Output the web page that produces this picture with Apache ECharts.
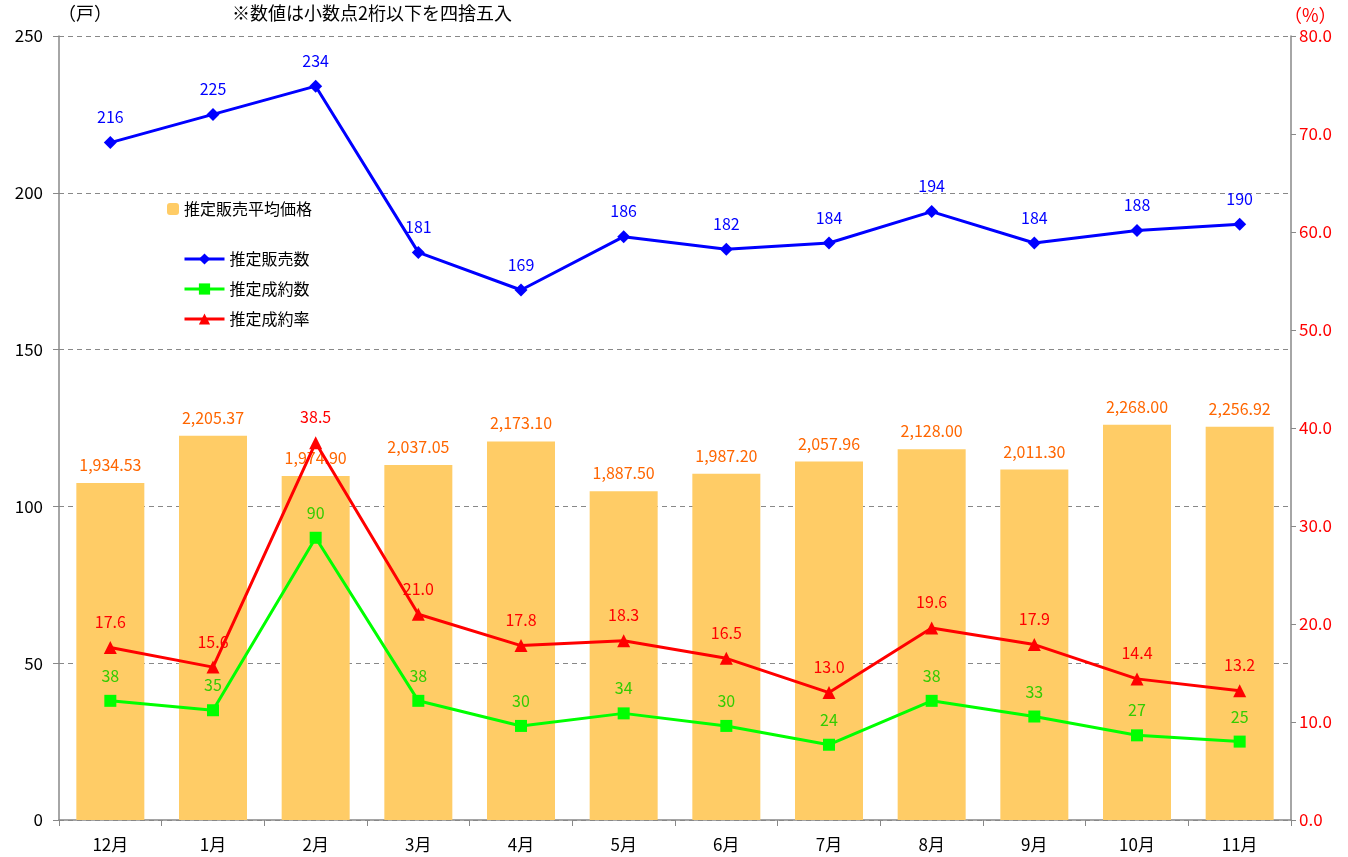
<!DOCTYPE html>
<html>
<head>
<meta charset="utf-8">
<script src="https://cdn.jsdelivr.net/npm/echarts@6/dist/echarts.min.js"></script>
<style>
  html, body { margin: 0; padding: 0; background: #fff; }
  #chart { width: 1348px; height: 857px; }
</style>
</head>
<body>
<div id="chart"></div>
<script>
const months = ['12月', '1月', '2月', '3月', '4月', '5月', '6月', '7月', '8月', '9月', '10月', '11月'];
const avgPrice = [1934.53, 2205.37, 1974.90, 2037.05, 2173.10, 1887.50, 1987.20, 2057.96, 2128.00, 2011.30, 2268.00, 2256.92];
const salesCount = [216, 225, 234, 181, 169, 186, 182, 184, 194, 184, 188, 190];
const contractCount = [38, 35, 90, 38, 30, 34, 30, 24, 38, 33, 27, 25];
const contractRate = [17.6, 15.6, 38.5, 21.0, 17.8, 18.3, 16.5, 13.0, 19.6, 17.9, 14.4, 13.2];

const font = '"Noto Sans CJK JP", "Noto Sans", sans-serif';

echarts.init(document.getElementById('chart'))
    .setOption({
        animation: false,
        textStyle: {
            fontFamily: font
        },
        grid: {
            left: 59,
            right: 57,
            top: 36,
            bottom: 37
        },
        graphic: [
            {
                type: 'text',
                left: 58,
                top: 4,
                style: { text: '（戸）', fontSize: 18, fill: '#000', fontFamily: font }
            },
            {
                type: 'text',
                left: 232,
                top: 4,
                style: { text: '※数値は小数点2桁以下を四捨五入', fontSize: 18, fill: '#000', fontFamily: font }
            },
            {
                type: 'text',
                left: 1284,
                top: 6,
                style: { text: '（%）', fontSize: 18, fill: '#ff0000', fontFamily: font }
            }
        ],
        legend: [
            {
                data: ['推定販売平均価格'],
                left: 162,
                top: 196,
                itemWidth: 12,
                itemHeight: 12,
                textStyle: { fontSize: 16, color: '#000' }
            },
            {
                data: ['推定販売数', '推定成約数', '推定成約率'],
                orient: 'vertical',
                left: 178,
                top: 246,
                itemGap: 14,
                itemWidth: 40,
                itemHeight: 14,
                lineStyle: { width: 3 },
                textStyle: { fontSize: 16, color: '#000' }
            }
        ],
        xAxis: {
            type: 'category',
            data: months,
            axisLine: { lineStyle: { color: '#888', width: 1.5 } },
            axisTick: { show: true, length: 6, lineStyle: { color: '#888' } },
            axisLabel: {
                fontSize: 17,
                color: '#000',
                margin: 16
            }
        },
        yAxis: [
            {
                type: 'value',
                min: 0,
                max: 250,
                interval: 50,
                axisLine: { show: true, lineStyle: { color: '#888', width: 1.5 } },
                axisTick: { show: true, length: 6, lineStyle: { color: '#888' } },
                axisLabel: { fontSize: 17, color: '#000', margin: 16 },
                splitLine: { lineStyle: { color: '#888', type: [5, 4], width: 1 } }
            },
            {
                type: 'value',
                min: 0,
                max: 80,
                interval: 10,
                position: 'right',
                axisLine: { show: true, lineStyle: { color: '#888', width: 1.5 } },
                axisTick: { show: true, length: 5, lineStyle: { color: '#888' } },
                axisLabel: {
                    fontSize: 17,
                    color: '#ff0000',
                    margin: 8,
                    formatter: v => v.toFixed(1)
                },
                splitLine: { show: false }
            },
            {
                type: 'value',
                min: 0,
                max: 4500,
                show: false,
                splitLine: { show: false }
            }
        ],
        series: [
            {
                name: '推定販売平均価格',
                type: 'bar',
                yAxisIndex: 2,
                data: avgPrice,
                barWidth: 68,
                itemStyle: { color: '#ffcc66' },
                label: {
                    show: true,
                    position: 'top',
                    distance: 10,
                    fontSize: 16,
                    color: '#ff6600',
                    formatter: p => p.value.toLocaleString('en-US', { minimumFractionDigits: 2, maximumFractionDigits: 2 })
                },
                z: 1
            },
            {
                name: '推定販売数',
                type: 'line',
                yAxisIndex: 0,
                data: salesCount,
                symbol: 'diamond',
                symbolSize: 13,
                lineStyle: { color: '#0000ff', width: 3 },
                itemStyle: { color: '#0000ff' },
                label: {
                    show: true,
                    position: 'top',
                    distance: 11,
                    fontSize: 16,
                    color: '#0000ff'
                },
                z: 3
            },
            {
                name: '推定成約数',
                type: 'line',
                yAxisIndex: 0,
                data: contractCount,
                symbol: 'rect',
                symbolSize: 12,
                lineStyle: { color: '#00ff00', width: 3 },
                itemStyle: { color: '#00ff00' },
                label: {
                    show: true,
                    position: 'top',
                    distance: 11,
                    fontSize: 16,
                    color: '#33cc00'
                },
                z: 3
            },
            {
                name: '推定成約率',
                type: 'line',
                yAxisIndex: 1,
                data: contractRate,
                symbol: 'triangle',
                symbolSize: 13,
                lineStyle: { color: '#ff0000', width: 3 },
                itemStyle: { color: '#ff0000' },
                label: {
                    show: true,
                    position: 'top',
                    distance: 11,
                    fontSize: 16,
                    color: '#ff0000',
                    formatter: p => p.value.toFixed(1)
                },
                z: 4
            }
        ]
    });
</script>
</body>
</html>
